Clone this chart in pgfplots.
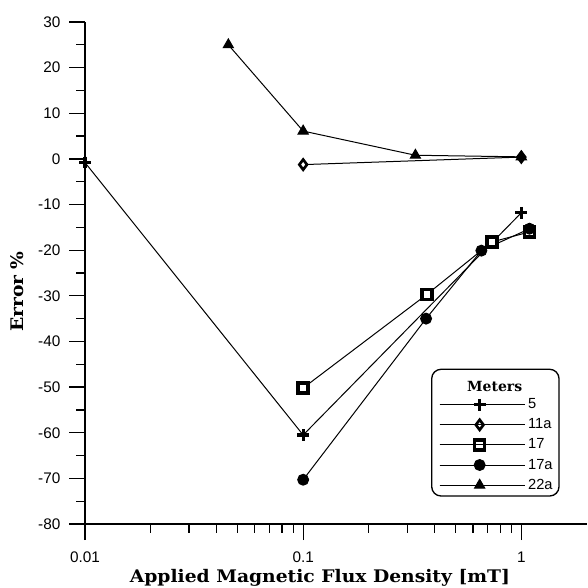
\documentclass[border=0pt]{standalone}
\usepackage{pgfplots}
\pgfplotsset{compat=1.18}
\usepackage{fontspec}
\newfontfamily\arial{Liberation Sans}
\newfontfamily\labfont[FakeStretch=1.08]{DejaVu Serif}
\newfontfamily\titfont{DejaVu Serif}
\begin{document}
\begin{tikzpicture}[x=0.75pt,y=0.75pt]
\begin{axis}[
  scale only axis,
  width=376.5pt, height=376.5pt,
  xmode=log, xmin=0.01, xmax=2,
  ymin=-80, ymax=30,
  axis lines=left,
  axis line style={-, line width=1.1pt},
  tick align=outside,
  major tick length=12pt,
  minor tick length=6.5pt,
  every tick/.style={black, line width=0.9pt},
  ytick={-80,-70,...,30},
  minor ytick={-75,-65,...,25},
  xtick={0.01,0.1,1},
  xticklabels={0.01,0.1,1},
  log ticks with fixed point,
  /pgf/number format/assume math mode=true,
  ticklabel style={font=\arial\fontsize{11.5}{13}\selectfont},
  xticklabel style={yshift=-5.5pt},
  yticklabel style={xshift=-3pt},
  xlabel={\labfont\fontsize{13}{15}\selectfont\bfseries Applied Magnetic Flux Density [mT]},
  ylabel={\labfont\fontsize{13}{15}\selectfont\bfseries Error \%},
  xlabel style={at={(axis description cs:0.468,-0.1175)}, anchor=base, inner sep=0pt},
  ylabel style={at={(axis description cs:-0.1355,0.463)}, anchor=center, inner sep=0pt},
  clip=false,
  legend style={draw=none, fill=none, at={(rel axis cs:0.697,0.054)}, anchor=south west,
    font=\arial\fontsize{11}{12}\selectfont, row sep=2pt},
  legend cell align=left,
  legend image code/.code={%
    \draw[mark repeat=2,mark phase=2,#1] plot coordinates {(0pt,0pt)(30pt,0pt)(60pt,0pt)};
    \path (0pt,0pt) -- (64pt,0pt);},
  every axis plot/.append style={black, line width=0.75pt},
]
% 5
\addplot[mark=+, mark size=4.4pt, mark options={line width=2.3pt}] coordinates {
(0.01,-0.8) (0.1,-60.5) (1.0,-11.8)};
\addlegendentry{5}
% 11a
\addplot[mark=diamond*, mark size=3.8pt, mark options={fill=white, line width=2pt}] coordinates {
(0.1,-1.25) (1.0,0.4)};
\addlegendentry{11a}
% 17
\addplot[mark=square*, mark size=3.7pt, mark options={fill=white, line width=2.6pt}] coordinates {
(0.1,-50.2) (0.369,-29.7) (0.734,-18.2) (1.09,-16.0)};
\addlegendentry{17}
% 17a
\addplot[mark=*, mark size=4.1pt] coordinates {
(0.1,-70.3) (0.366,-35.0) (0.656,-20.1) (1.09,-15.3)};
\addlegendentry{17a}
% 22a
\addplot[mark=triangle*, mark size=4.4pt] coordinates {
(0.0454,25.0) (0.1,6.1) (0.327,0.8) (1.0,0.45)};
\addlegendentry{22a}
\end{axis}
\node[font=\titfont\fontsize{10.5}{12}\selectfont\bfseries, inner sep=0pt] at (409.7,137.3) {Meters};
\draw[line width=1pt, rounded corners=7pt] (346.7,28) rectangle (474,154.7);
\path (-85,-64) rectangle (503,524);
\end{tikzpicture}
\end{document}
